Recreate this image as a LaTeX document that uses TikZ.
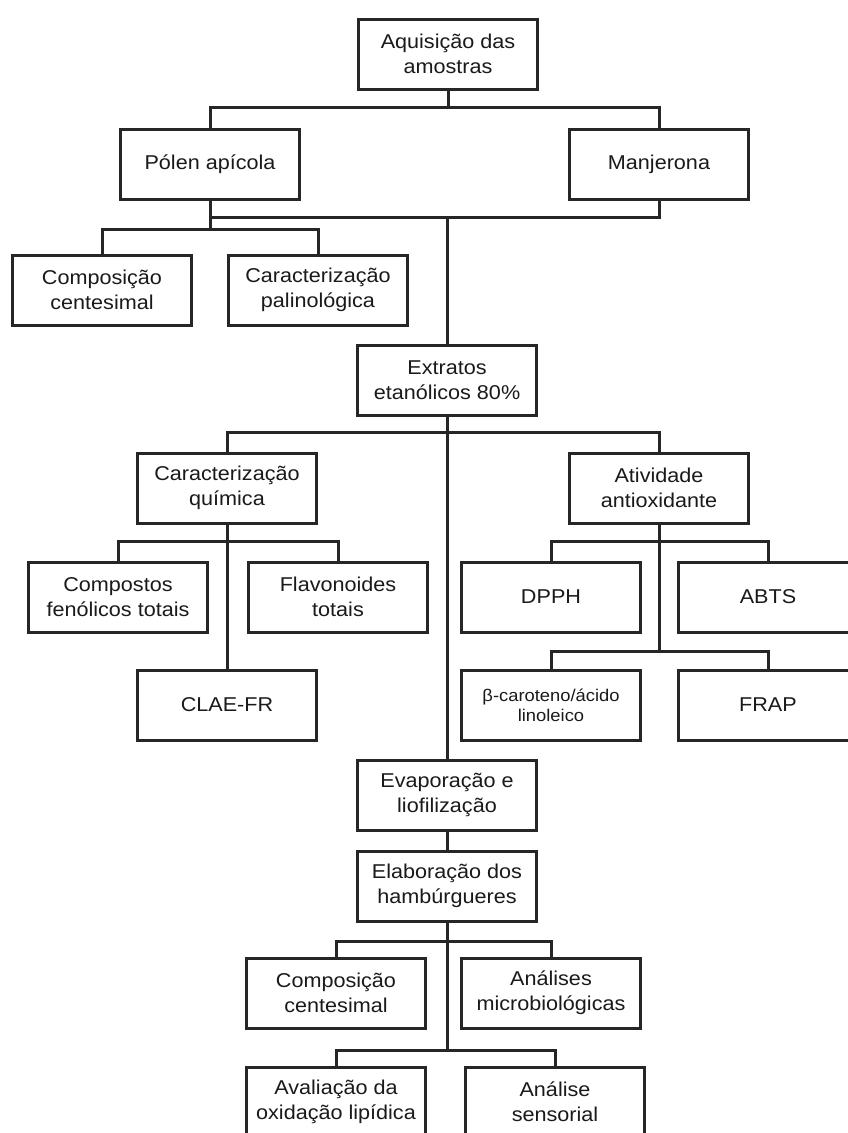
\documentclass[tikz,border=0pt]{standalone}
\usepackage{fontspec}
\setmainfont{Liberation Sans}[FakeStretch=1.08]
\usepackage{tikz}
\definecolor{boxline}{HTML}{262626}
\definecolor{boxtext}{HTML}{1A1A1A}

\begin{document}
\begin{tikzpicture}[x=1pt,y=-1pt,
    stepbox/.style={draw=boxline,line width=\linewd pt,fill=white,text=boxtext,
      minimum width=\boxwidth pt,minimum height=\boxheight pt,inner sep=0pt,outer sep=0pt,
      align=center,font=\boxfontsize},
    link/.style={draw=boxline,line width=\linewd pt}]
    \pgfmathsetmacro{\boxwidth}{179}
    \pgfmathsetmacro{\boxheight}{70}
    \pgfmathsetmacro{\linewd}{3}
    \pgfmathsetmacro{\pagewidth}{848}
    \pgfmathsetmacro{\pageheight}{1133}
    \providecommand{\boxfontsize}{\fontsize{20}{25}\selectfont}
    \providecommand{\smallboxfontsize}{\fontsize{17}{20}\selectfont}
    \useasboundingbox (0,0) rectangle (\pagewidth,\pageheight);
    \fill[white] (0,0) rectangle (\pagewidth,\pageheight);
    \clip (0,0) rectangle (\pagewidth,\pageheight);
    % boxes
    \node[stepbox] (aq) at (448,54) {Aquisição das\\amostras};
    \node[stepbox] (polen) at (210,164) {Pólen apícola};
    \node[stepbox] (manj) at (659,164) {Manjerona};
    \node[stepbox] (comp1) at (102,290) {Composição\\centesimal};
    \node[stepbox] (pali) at (318,290) {Caracterização\\palinológica};
    \node[stepbox] (extr) at (447,380) {Extratos\\etanólicos 80\%};
    \node[stepbox] (quim) at (227,488) {Caracterização\\química};
    \node[stepbox] (ativ) at (659,488) {Atividade\\antioxidante};
    \node[stepbox] (fenol) at (118,597) {Compostos\\fenólicos totais};
    \node[stepbox] (flav) at (338,597) {Flavonoides\\totais};
    \node[stepbox] (dpph) at (551,597) {DPPH};
    \node[stepbox] (abts) at (768,597) {ABTS};
    \node[stepbox] (clae) at (227,705) {CLAE-FR};
    \node[stepbox,font=\smallboxfontsize] (beta) at (551,705) {β-caroteno/ácido\\linoleico};
    \node[stepbox] (frap) at (768,705) {FRAP};
    \node[stepbox] (evap) at (447,795) {Evaporação e\\liofilização};
    \node[stepbox] (elab) at (447,886) {Elaboração dos\\hambúrgueres};
    \node[stepbox] (comp2) at (336,993) {Composição\\centesimal};
    \node[stepbox] (micro) at (551,993) {Análises\\microbiológicas};
    \node[stepbox] (aval) at (336,1102) {Avaliação da\\oxidação lipídica};
    \node[stepbox] (sens) at (555,1102) {Análise\\sensorial};
    % bus points
    \coordinate (b1) at (448,107);
    \coordinate (b2) at (447,217);
    \coordinate (b3) at (210,229);
    \coordinate (b5) at (447,432);
    \coordinate (b6) at (227,541);
    \coordinate (b7) at (659,541);
    \coordinate (b8) at (659,651);
    \coordinate (b9) at (447,941);
    \coordinate (b10) at (447,1050);
    % connectors
    \draw[link] (aq.south) -- (b1);
    \draw[link] (polen.north) |- (b1) -| (manj.north);
    \draw[link] (polen.south) |- (b2) -| (manj.south);
    \draw[link] (polen.south) -- (b3);
    \draw[link] (comp1.north) |- (b3) -| (pali.north);
    \draw[link] (b2) -- (extr.north);
    \draw[link] (extr.south) -- (evap.north);
    \draw[link] (quim.north) |- (b5) -| (ativ.north);
    \draw[link] (quim.south) -- (clae.north);
    \draw[link] (fenol.north) |- (b6) -| (flav.north);
    \draw[link] (ativ.south) -- (b8);
    \draw[link] (dpph.north) |- (b7) -| (abts.north);
    \draw[link] (beta.north) |- (b8) -| (frap.north);
    \draw[link] (evap.south) -- (elab.north);
    \draw[link] (elab.south) -- (b10);
    \draw[link] (comp2.north) |- (b9) -| (micro.north);
    \draw[link] (aval.north) |- (b10) -| (sens.north);
\end{tikzpicture}
\end{document}
